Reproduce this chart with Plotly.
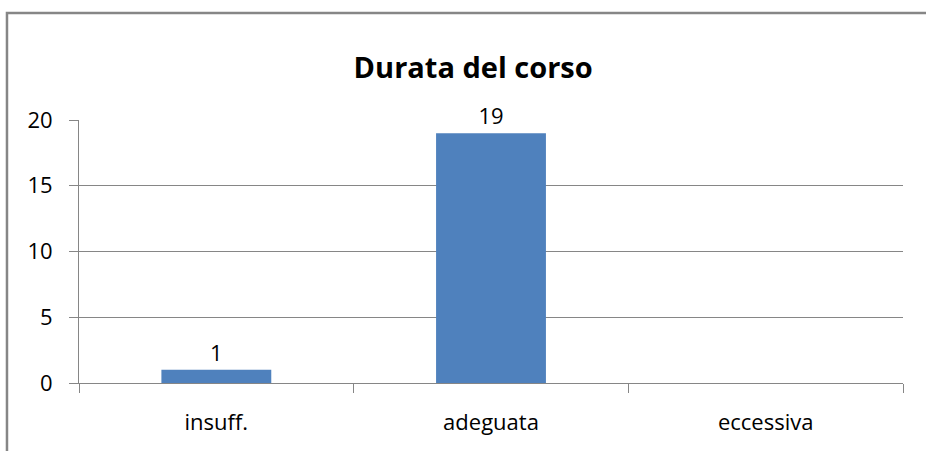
import plotly.graph_objects as go

categories = ["insuff.", "adeguata", "eccessiva"]
values = [1, 19, 0]
y_ticks = [0, 5, 10, 15, 20]

labels = [str(v) if v else "" for v in values]

FONT = "'Open Sans', 'DejaVu Sans', sans-serif"

fig = go.Figure(go.Bar(
    x=categories,
    y=values,
    text=labels,
    textposition="outside",
    textfont=dict(size=22, color="#000000", family=FONT),
    cliponaxis=False,
    marker=dict(color="#4F81BD", line=dict(width=0)),
    width=0.4,
))

fig.update_layout(
    width=926,
    height=451,
    margin=dict(l=79, r=23, t=120, b=68),
    paper_bgcolor="white",
    plot_bgcolor="white",
    font=dict(family=FONT, size=22, color="#000000"),
    title=dict(
        text="<b>Durata del corso</b>",
        x=0.511,
        xanchor="center",
        y=0.85,
        yanchor="middle",
        font=dict(size=29, family=FONT, color="#000000"),
    ),
    showlegend=False,
    xaxis=dict(
        showline=True,
        linecolor="#868686",
        linewidth=1,
        ticks="outside",
        tickson="boundaries",
        ticklen=9,
        tickcolor="#868686",
        ticklabelstandoff=20,
        showgrid=False,
    ),
    yaxis=dict(
        range=[0, 20],
        tickvals=y_ticks,
        showline=True,
        linecolor="#868686",
        linewidth=1,
        ticks="outside",
        ticklen=9,
        tickcolor="#868686",
        ticklabelstandoff=12,
        showgrid=True,
        gridcolor="#868686",
        gridwidth=1,
        zeroline=False,
    ),
    shapes=[
        dict(
            type="rect",
            xref="paper",
            yref="paper",
            x0=-0.0874,
            x1=1.2,
            y0=-0.5,
            y1=1.4068,
            line=dict(color="#868686", width=2.5),
            fillcolor="rgba(0,0,0,0)",
            layer="below",
        )
    ],
)

# the page body has a default 8px margin, drop it so the chart sits at 0,0
fig.write_html(
    "out.html",
    config={"displayModeBar": False},
    post_script="document.body.style.margin='0';",
)
